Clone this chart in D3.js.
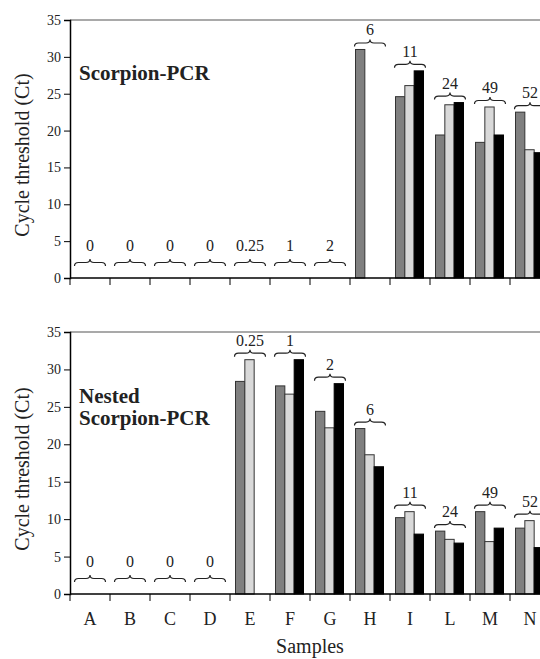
<!DOCTYPE html>
<html>
<head>
<meta charset="utf-8">
<script src="https://cdn.jsdelivr.net/npm/d3@7"></script>
<style>
body { margin: 0; background: #fff; }
text { font-family: "Liberation Serif", "Times New Roman", serif; fill: #222; }
</style>
</head>
<body>
<script>
var width = 540
var height = 659

var samples = ["A", "B", "C", "D", "E", "F", "G", "H", "I", "L", "M", "N"]
var groupLabels = ["0", "0", "0", "0", "0.25", "1", "2", "6", "11", "24", "49", "52"]
var yTicks = [0, 5, 10, 15, 20, 25, 30, 35]
var colors = ["#808080", "#d9d9d9", "#000000"]

// Scorpion-PCR
var top1 = [0, 0, 0, 0, 0, 0, 0, 31.0, 24.6, 19.4, 18.4, 22.5]
var top2 = [0, 0, 0, 0, 0, 0, 0, 0, 26.1, 23.5, 23.2, 17.4]
var top3 = [0, 0, 0, 0, 0, 0, 0, 0, 28.1, 23.8, 19.4, 17.0]

// Nested Scorpion-PCR
var nest1 = [0, 0, 0, 0, 28.4, 27.8, 24.4, 22.1, 10.2, 8.4, 11.0, 8.8]
var nest2 = [0, 0, 0, 0, 31.3, 26.7, 22.2, 18.6, 11.0, 7.3, 7.0, 9.8]
var nest3 = [0, 0, 0, 0, 0, 31.3, 28.1, 17.0, 8.0, 6.8, 8.8, 6.2]

var svg = d3.select("body").append("svg")
    .attr("width", width)
    .attr("height", height)

var x = d3.scaleBand()
    .domain(samples)
    .range([70, 550])

var xs = d3.scaleBand()
    .domain([0, 1, 2])
    .range([5.5, 33.5])

function bracePath(cx, yb) {
    var hw = 15.5, r = 4
    var ym = yb - 3.5, yt = yb - 7
    var x0 = cx - hw, x1 = cx + hw
    return "M" + x0 + "," + yb +
        "Q" + x0 + "," + ym + " " + (x0 + r) + "," + ym +
        "L" + (cx - r) + "," + ym +
        "Q" + cx + "," + ym + " " + cx + "," + yt +
        "Q" + cx + "," + ym + " " + (cx + r) + "," + ym +
        "L" + (x1 - r) + "," + ym +
        "Q" + x1 + "," + ym + " " + x1 + "," + yb
}

function drawPanel(yTop, yBottom, series, title, showX) {
    var y = d3.scaleLinear()
        .domain([0, 35])
        .range([yBottom, yTop])

    var g = svg.append("g")

    // frame top line
    g.append("line")
        .attr("x1", 70).attr("x2", 550)
        .attr("y1", y(35)).attr("y2", y(35))
        .attr("stroke", "#555").attr("stroke-width", 1.2)

    // bars
    series.forEach(function(vals, si) {
        g.append("g").selectAll("rect")
            .data(vals.map(function(v, i) { return {s: samples[i], v: v} })
                .filter(function(d) { return d.v > 0 }))
            .enter().append("rect")
            .attr("x", function(d) { return x(d.s) + xs(si) })
            .attr("width", xs.bandwidth())
            .attr("y", function(d) { return y(d.v) })
            .attr("height", function(d) { return y(0) - y(d.v) })
            .attr("fill", colors[si])
            .attr("stroke", si == 2 ? "#000" : "#333")
            .attr("stroke-width", 1)
    })

    // braces + labels
    samples.forEach(function(s, i) {
        var mx = Math.max(series[0][i], series[1][i], series[2][i])
        var yb = mx > 0 ? y(mx) - 3 : y(0) - 12
        var cx = x(s) + 20
        g.append("path")
            .attr("d", bracePath(cx, yb))
            .attr("fill", "none")
            .attr("stroke", "#222")
            .attr("stroke-width", 1.2)
        g.append("text")
            .attr("x", cx)
            .attr("y", yb - 7 - (mx > 0 ? 4 : 8))
            .attr("text-anchor", "middle")
            .style("font-size", "16px")
            .text(groupLabels[i])
    })

    // y axis
    var ya = g.append("g")
        .attr("transform", "translate(70,0)")
        .call(d3.axisLeft(y).tickValues(yTicks).tickSize(6).tickPadding(3))
    ya.attr("font-family", null)
    ya.select(".domain").attr("stroke", "#000").attr("stroke-width", 1.5)
    ya.selectAll(".tick line").attr("stroke", "#000")
    ya.selectAll(".tick text")
        .style("font-size", "14px")
        .attr("fill", "#222")

    // x axis
    g.append("line")
        .attr("x1", 70).attr("x2", 550)
        .attr("y1", y(0)).attr("y2", y(0))
        .attr("stroke", "#000").attr("stroke-width", 1.5)
    g.append("g").selectAll("line")
        .data(samples.concat(["end"]))
        .enter().append("line")
        .attr("x1", function(d, i) { return 70 + i * x.bandwidth() })
        .attr("x2", function(d, i) { return 70 + i * x.bandwidth() })
        .attr("y1", y(0)).attr("y2", y(0) + 7)
        .attr("stroke", "#000").attr("stroke-width", 1)

    if (showX) {
        g.append("g").selectAll("text")
            .data(samples)
            .enter().append("text")
            .attr("x", function(d) { return x(d) + 20 })
            .attr("y", y(0) + 31)
            .attr("text-anchor", "middle")
            .style("font-size", "18px")
            .text(function(d) { return d })
    }

    // y label
    g.append("text")
        .attr("transform", "translate(29," + ((yTop + yBottom) / 2 + 6) + ") rotate(-90)")
        .attr("text-anchor", "middle")
        .style("font-size", "20px")
        .text("Cycle threshold (Ct)")

    // title
    var t = g.append("text")
        .attr("x", 79)
        .attr("y", title.length > 1 ? y(35) + 71 : y(35) + 60)
        .style("font-size", "21px")
        .style("font-weight", "bold")
    title.forEach(function(line, i) {
        t.append("tspan")
            .attr("x", 79)
            .attr("dy", i == 0 ? 0 : 22)
            .text(line)
    })
}

drawPanel(20, 278, [top1, top2, top3], ["Scorpion-PCR"], false)
drawPanel(332, 594, [nest1, nest2, nest3], ["Nested", "Scorpion-PCR"], true)

svg.append("text")
    .attr("x", 310)
    .attr("y", 653)
    .attr("text-anchor", "middle")
    .style("font-size", "20px")
    .text("Samples")
</script>
</body>
</html>
